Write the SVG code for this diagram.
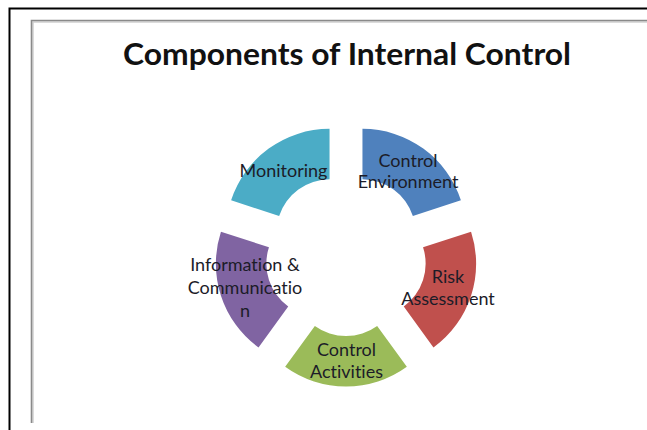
<svg xmlns="http://www.w3.org/2000/svg" width="647" height="430" viewBox="0 0 647 430">
  <style>
    .title { font-family: Lato, "Liberation Sans", sans-serif; font-weight: bold; font-size: 31px; fill: #111; }
    .lbl { font-family: Lato, "Liberation Sans", sans-serif; font-size: 18px; fill: #1c1c28; text-anchor: middle; font-variant-ligatures: none; }
    .seg { stroke: none; }
  </style>
  <rect width="647" height="430" fill="#fff"/>

  <!-- slide frame -->
  <g id="frame" fill="none">
    <path d="M9.5,430 V8.5 H647" stroke="#000" stroke-width="2"/>
    <path d="M33,423 V22 H647" stroke="#d0d0d0" stroke-width="1.5"/>
    <path d="M31.5,423 V20.5 H647" stroke="#8a8a8a" stroke-width="1.6"/>
  </g>

  <text class="title" x="123" y="65" textLength="448" lengthAdjust="spacingAndGlyphs">Components of Internal Control</text>

  <!-- ring segments, each drawn around its own origin and pushed outward -->
  <g id="control-environment">
    <path class="seg" fill="#4F81BD" transform="translate(362.46,232.35)"
      d="M0,-103.5 A103.5,103.5 0 0 1 98.43,-31.98 L50.41,-16.38 A53,53 0 0 0 0,-53 Z"/>
    <text class="lbl" x="408" y="167">Control</text>
    <text class="lbl" x="408" y="188">Environment</text>
  </g>

  <g id="risk-assessment">
    <path class="seg" fill="#C0504D" transform="translate(372.63,263.65)"
      d="M98.43,-31.98 A103.5,103.5 0 0 1 60.84,83.73 L31.15,42.88 A53,53 0 0 0 50.41,-16.38 Z"/>
    <text class="lbl" x="448" y="283">Risk</text>
    <text class="lbl" x="448" y="305">Assessment</text>
  </g>

  <g id="control-activities">
    <path class="seg" fill="#9BBB59" transform="translate(346,283)"
      d="M60.84,83.73 A103.5,103.5 0 0 1 -60.84,83.73 L-31.15,42.88 A53,53 0 0 0 31.15,42.88 Z"/>
    <text class="lbl" x="346.5" y="356">Control</text>
    <text class="lbl" x="346.5" y="378">Activities</text>
  </g>

  <g id="information-communication">
    <path class="seg" fill="#8064A2" transform="translate(319.37,263.65)"
      d="M-60.84,83.73 A103.5,103.5 0 0 1 -98.43,-31.98 L-50.41,-16.38 A53,53 0 0 0 -31.15,42.88 Z"/>
    <text class="lbl" x="245" y="271">Information &amp;</text>
    <text class="lbl" x="245" y="294">Communicatio</text>
    <text class="lbl" x="245" y="317">n</text>
  </g>

  <g id="monitoring">
    <path class="seg" fill="#4BACC6" transform="translate(329.54,232.35)"
      d="M-98.43,-31.98 A103.5,103.5 0 0 1 0,-103.5 L0,-53 A53,53 0 0 0 -50.41,-16.38 Z"/>
    <text class="lbl" x="283.5" y="177">Monitoring</text>
  </g>

  <g id="connectors"/>
</svg>
